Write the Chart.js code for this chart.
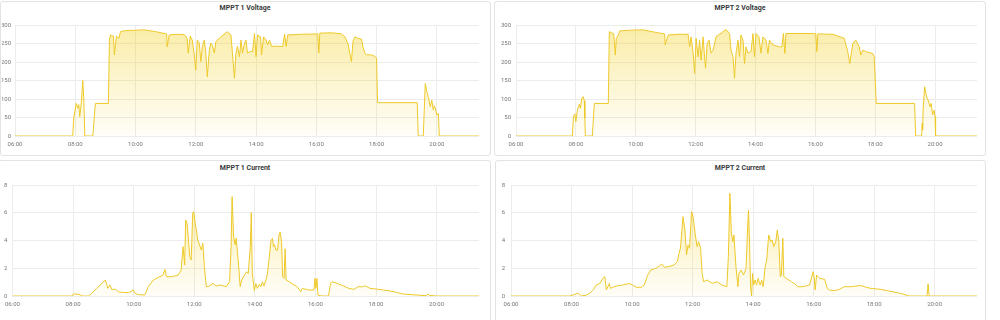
<!DOCTYPE html>
<html>
<head>
<meta charset="utf-8">
<script src="https://cdn.jsdelivr.net/npm/chart.js@4.4.1/dist/chart.umd.min.js"></script>
<style>
  html, body { margin: 0; padding: 0; background: #fff; }
  body { width: 1000px; height: 320px; position: relative; overflow: hidden; font-family: Roboto, sans-serif; }
  .panel { position: absolute; box-sizing: border-box; border: 1px solid #e3e3e3; border-radius: 3px; background: #fff; }
  .title { position: absolute; text-align: center; font: bold 7px Roboto, sans-serif; line-height: 9px; color: #3a3a3a; }
  canvas { position: absolute; }
</style>
</head>
<body>

<div class="panel" style="left:0px; top:1px; width:491px; height:155px;"></div>
<div class="panel" style="left:494px; top:1px; width:492px; height:155px;"></div>
<div class="panel" style="left:-2px; top:160px; width:493px; height:200px;"></div>
<div class="panel" style="left:495px; top:160px; width:491px; height:200px;"></div>

<div class="title" style="left:0px; width:490px; top:4px;">MPPT 1 Voltage</div>
<div class="title" style="left:494px; width:492px; top:4px;">MPPT 2 Voltage</div>
<div class="title" style="left:0px; width:490px; top:164px;">MPPT 1 Current</div>
<div class="title" style="left:494px; width:492px; top:164px;">MPPT 2 Current</div>

<canvas id="v1" width="488" height="153" style="left:2px; top:2px;"></canvas>
<canvas id="v2" width="489" height="153" style="left:495px; top:2px;"></canvas>
<canvas id="c1" width="490" height="159" style="left:0px; top:161px;"></canvas>
<canvas id="c2" width="488" height="159" style="left:496px; top:161px;"></canvas>

<script>
// time is in minutes since midnight
var timeMin = 360;   // 06:00
var timeMax = 1284;  // ~21:24
var tickMinutes = [360, 480, 600, 720, 840, 960, 1080, 1200];
var tickLabels = ['06:00', '08:00', '10:00', '12:00', '14:00', '16:00', '18:00', '20:00'];

// MPPT 1 Voltage (V)
var v1Times = [360, 475, 477, 482, 485, 487, 489, 492, 495, 497, 499, 515, 520, 546, 548, 550, 556, 558, 562, 567, 570, 580,
  603, 617, 640, 662, 663, 667, 680, 697, 700, 703, 705, 709, 713, 717, 720, 723, 727, 730, 733, 737, 740, 743, 747,
  750, 753, 757, 760, 770, 783, 790, 793, 797, 800, 803, 807, 810, 813, 817, 820, 823, 827, 833, 837, 840, 843, 849,
  851, 855, 860, 863, 867, 871, 877, 893, 897, 900, 903, 930, 963, 965, 967, 990, 1010, 1017, 1023, 1030, 1033, 1037,
  1043, 1050, 1053, 1057, 1060, 1070, 1077, 1080, 1082, 1161, 1163, 1173, 1177, 1180, 1183, 1187, 1190, 1193, 1195,
  1197, 1200, 1203, 1205, 1284];
var v1Values = [0, 0, 50, 88, 75, 85, 52, 90, 150, 100, 0, 0, 88, 88, 259, 273, 270, 219, 270, 264, 282, 285,
  286, 287, 282, 276, 241, 273, 275, 274, 270, 262, 224, 270, 259, 219, 178, 259, 251, 201, 241, 259, 224, 160, 233,
  251, 245, 224, 255, 268, 282, 273, 224, 156, 224, 242, 214, 259, 224, 250, 259, 224, 228, 228, 277, 214, 273, 268,
  219, 268, 259, 246, 259, 242, 243, 242, 275, 242, 273, 275, 276, 224, 278, 279, 276, 268, 250, 201, 256, 268,
  264, 262, 240, 223, 220, 219, 215, 210, 90, 90, 0, 0, 142, 120, 106, 79, 97, 70, 82,
  75, 57, 61, 0, 0];

// MPPT 2 Voltage (V)
var v2Times = [360, 473, 475, 478, 480, 483, 487, 489, 492, 495, 497, 498, 499, 513, 517, 545, 547, 550, 556, 559, 561, 565,
  568, 590, 615, 640, 658, 659, 665, 685, 705, 708, 711, 715, 718, 721, 725, 728, 731, 735, 738, 740, 743, 747, 751,
  755, 761, 775, 781, 788, 791, 795, 798, 801, 805, 808, 811, 815, 818, 821, 825, 831, 835, 838, 841, 847, 851, 855,
  861, 865, 868, 875, 888, 893, 896, 899, 901, 955, 961, 963, 965, 995, 1018, 1025, 1029, 1035, 1041, 1048, 1051,
  1055, 1061, 1075, 1078, 1082, 1159, 1161, 1173, 1174, 1175, 1176, 1179, 1183, 1186, 1190, 1192, 1195, 1198, 1200,
  1201, 1284];
var v2Values = [0, 0, 52, 60, 39, 70, 86, 75, 102, 106, 95, 48, 0, 0, 88, 88, 282, 280, 276, 219, 264, 273,
  284, 286, 287, 280, 276, 246, 273, 275, 275, 241, 268, 224, 169, 264, 214, 259, 205, 268, 214, 183, 250, 259, 224,
  232, 268, 282, 288, 277, 232, 214, 156, 224, 259, 214, 273, 259, 196, 241, 224, 228, 277, 214, 277, 268, 224, 268,
  259, 223, 259, 246, 241, 241, 277, 223, 277, 277, 276, 228, 276, 275, 264, 228, 196, 250, 259, 241, 219,
  232, 228, 223, 214, 88, 88, 0, 0, 34, 16, 70, 133, 106, 97, 79, 88, 57, 70, 52,
  0, 0];

// MPPT 1 Current (A)
var c1Times = [360, 478, 481, 494, 498, 511, 517, 527, 537, 544, 549, 553, 557, 563, 570, 580, 590, 596, 599, 603, 609, 622,
  629, 639, 649, 658, 662, 665, 675, 688, 694, 698, 701, 703, 706, 711, 714, 717, 719, 722, 727, 734, 737, 740, 744,
  750, 757, 763, 773, 783, 790, 793, 795, 798, 801, 803, 807, 811, 814, 819, 824, 827, 831, 833, 835, 839, 842, 845,
  849, 852, 855, 858, 862, 865, 868, 872, 875, 877, 879, 882, 885, 888, 890, 893, 895, 898, 900, 902, 908, 914, 924,
  931, 934, 947, 957, 959, 961, 963, 965, 973, 986, 990, 993, 999, 1006, 1016, 1026, 1036, 1045, 1055, 1058, 1068,
  1081, 1095, 1108, 1121, 1134, 1160, 1180, 1183, 1186, 1199, 1284];
var c1Values = [0, 0, 0.15, 0.1, 0, 0, 0.2, 0.55, 0.9, 1.15, 0.55, 0.8, 0.45, 0.5, 0.3, 0.25, 0.25, 0.35, 0.45, 0.2, 0.1, 0.07,
  0.67, 1.15, 1.35, 1.5, 1.92, 1.39, 1.39, 1.5, 1.87, 3.56, 2.23, 5.48, 5.24, 2.84, 2.6, 5.96, 6.08, 5.24, 4.04, 3.32, 3.8, 2.12, 0.67,
  0.72, 0.91, 0.72, 0.79, 0.67, 1.03, 3.56, 7.16, 4.28, 3.68, 4.16, 2.6, 0.67, 1.15, 1.5, 1.75, 1.63, 3.56, 6.0, 1.6, 0.4, 0.9, 0.55,
  0.85, 0.67, 1.03, 0.72, 1.15, 1.6, 2.6, 4.0, 4.15, 3.56, 3.7, 3.3, 3.3, 4.4, 4.6, 3.92, 1.4, 1.27, 3.4, 1.15, 1.03, 0.87, 0.67,
  0.3, 0.55, 0.43, 0.43, 1.27, 0.55, 1.27, 0.07, 0, 0, 0.91, 1.03, 0.96, 0.87, 0.72, 0.55, 0.48, 0.67, 0.67, 0.75, 0.55,
  0.5, 0.43, 0.36, 0.26, 0.14, 0.07, 0.02, 0.15, 0.05, 0, 0];

// MPPT 2 Current (A)
var c2Times = [360, 477, 493, 500, 510, 516, 523, 529, 536, 542, 546, 549, 552, 555, 557, 562, 569, 582, 595, 601, 608, 618,
  624, 631, 637, 647, 654, 659, 664, 673, 683, 690, 693, 696, 701, 705, 708, 711, 714, 718, 721, 725, 729, 732, 736,
  739, 742, 749, 759, 769, 778, 788, 791, 794, 797, 800, 802, 806, 810, 812, 816, 821, 826, 829, 831, 833, 835, 837,
  839, 841, 844, 847, 850, 854, 857, 860, 864, 867, 871, 875, 878, 881, 885, 888, 891, 894, 896, 899, 901, 906, 916,
  923, 929, 939, 952, 959, 961, 963, 966, 972, 982, 987, 991, 1001, 1011, 1021, 1034, 1044, 1054, 1064, 1073, 1093,
  1106, 1126, 1139, 1149, 1185, 1187, 1189, 1284];
var c2Values = [0, 0, 0.2, 0, 0.07, 0.2, 0.43, 0.8, 0.9, 1.27, 1.4, 0.43, 0.67, 0.9, 0.55, 0.63, 0.72, 0.8, 0.9, 0.79, 0.63, 0.63,
  0.79, 1.5, 1.87, 1.99, 2.16, 2.31, 2.07, 2.12, 2.23, 2.48, 3.08, 3.44, 5.72, 4.76, 2.96, 3.68, 3.44, 6.08, 5.72, 4.52, 3.56, 3.92, 3.44,
  1.63, 1.03, 1.15, 0.91, 1.03, 0.79, 0.67, 2.84, 7.4, 4.52, 3.92, 4.4, 2.12, 0.67, 1.63, 1.87, 1.51, 1.99, 4.76, 6.2, 3.8, 0.67, 0,
  1.63, 0.79, 1.15, 0.79, 1.27, 0.79, 1.15, 0.67, 2.12, 2.6, 4.4, 3.92, 4.04, 3.56, 3.92, 4.76, 3.92, 1.39, 1.51, 4.16, 1.39, 1.27, 1.03,
  0.87, 0.67, 0.67, 0.79, 1.75, 1.39, 0.43, 1.51, 1.27, 1.2, 0.55, 0.43, 0.38, 0.48, 0.67, 0.67, 0.72, 0.75, 0.63, 0.55, 0.48,
  0.38, 0.24, 0.12, 0, 0, 0.87, 0, 0];

Chart.defaults.font.family = 'Roboto, sans-serif';
Chart.defaults.font.size = 6;
Chart.defaults.color = '#777';

function fillGradient(context) {
  var chart = context.chart;
  var area = chart.chartArea;
  if (!area) return 'rgba(242,204,12,0.2)';
  var g = chart.ctx.createLinearGradient(0, area.top, 0, area.bottom);
  g.addColorStop(0, 'rgba(242,204,12,0.36)');
  g.addColorStop(1, 'rgba(242,204,12,0.03)');
  return g;
}

// box: top padding, right padding, y-axis width, x-axis height, y label padding
function makeChart(id, times, values, yMax, yStep, box) {
  var points = times.map(function (t, i) { return { x: t, y: values[i] }; });
  return new Chart(document.getElementById(id), {
    type: 'line',
    data: {
      datasets: [{
        data: points,
        borderColor: '#eec92a',
        borderWidth: 1,
        backgroundColor: fillGradient,
        fill: 'origin',
        pointRadius: 0,
        tension: 0
      }]
    },
    options: {
      responsive: false,
      animation: false,
      events: [],
      layout: { padding: { top: box.top, right: box.right, left: 0, bottom: 0 } },
      plugins: { legend: { display: false }, tooltip: { enabled: false } },
      scales: {
        x: {
          type: 'linear',
          min: timeMin,
          max: timeMax,
          afterBuildTicks: function (scale) {
            scale.ticks = tickMinutes.map(function (m) { return { value: m }; });
          },
          afterFit: function (scale) { scale.height = box.xh; },
          ticks: {
            autoSkip: false,
            maxRotation: 0,
            padding: 5,
            callback: function (value) {
              var i = tickMinutes.indexOf(value);
              return i >= 0 ? tickLabels[i] : '';
            }
          },
          grid: { color: '#ececec', drawTicks: false },
          border: { display: false }
        },
        y: {
          min: 0,
          max: yMax,
          ticks: { stepSize: yStep, padding: box.yp },
          afterFit: function (scale) { scale.width = box.yw; },
          grid: { color: '#ececec', drawTicks: false },
          border: { display: false }
        }
      }
    }
  });
}

makeChart('v1', v1Times, v1Values, 300, 50, { top: 23, right: 11, yw: 13, xh: 19, yp: 4 });
makeChart('v2', v2Times, v2Values, 300, 50, { top: 23, right: 7, yw: 21, xh: 19, yp: 5 });
makeChart('c1', c1Times, c1Values, 8, 2, { top: 24, right: 11, yw: 10, xh: 24, yp: 5 });
makeChart('c2', c2Times, c2Values, 8, 2, { top: 24, right: 7, yw: 15, xh: 24, yp: 6 });
</script>
</body>
</html>
